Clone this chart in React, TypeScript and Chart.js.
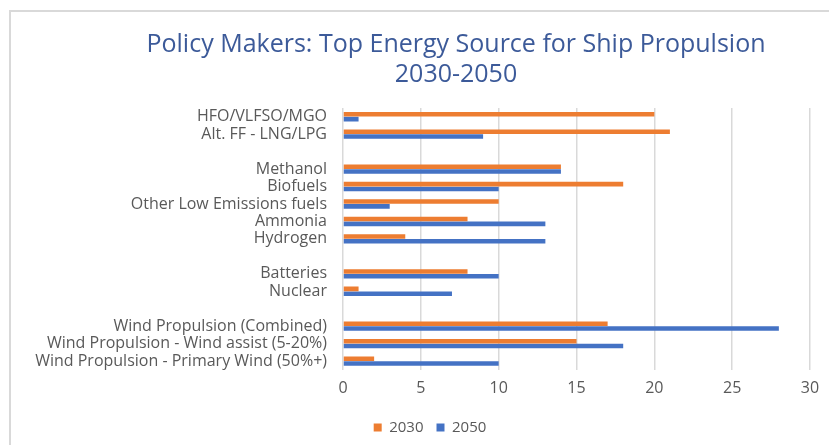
import React, { useEffect, useRef } from "react";
import { Chart, registerables } from "chart.js";

Chart.register(...registerables);

const TITLE_LINE_1 = "Policy Makers: Top Energy Source for Ship Propulsion";
const TITLE_LINE_2 = "2030-2050";

const categories = [
  "HFO/VLFSO/MGO",
  "Alt. FF - LNG/LPG",
  "",
  "Methanol",
  "Biofuels",
  "Other Low Emissions fuels",
  "Ammonia",
  "Hydrogen",
  "",
  "Batteries",
  "Nuclear",
  "",
  "Wind Propulsion (Combined)",
  "Wind Propulsion - Wind assist (5-20%)",
  "Wind Propulsion - Primary Wind (50%+)",
];

const values2030 = [20, 21, null, 14, 18, 10, 8, 4, null, 8, 1, null, 17, 15, 2];
const values2050 = [1, 9, null, 14, 10, 3, 13, 13, null, 10, 7, null, 28, 18, 10];

const seriesNames = ["2030", "2050"];
const xTicks = [0, 5, 10, 15, 20, 25, 30];

const FONT = "'Open Sans', Lato, sans-serif";

const legendShift = {
  id: "legendShift",
  afterLayout(chart: any) {
    const l = chart.legend;
    if (l) {
      l.left += 20;
      l.right += 20;
    }
  },
};

export default function App() {
  const canvasRef = useRef<HTMLCanvasElement | null>(null);

  useEffect(() => {
    document.body.style.margin = "0";
    const canvas = canvasRef.current;
    if (!canvas) return;
    const chart = new Chart(canvas, {
      type: "bar",
      data: {
        labels: categories,
        datasets: [
          {
            label: seriesNames[0],
            data: values2030,
            backgroundColor: "#ED7D31",
            categoryPercentage: 0.55,
            barPercentage: 0.95,
          },
          {
            label: seriesNames[1],
            data: values2050,
            backgroundColor: "#4472C4",
            categoryPercentage: 0.55,
            barPercentage: 0.95,
          },
        ],
      },
      plugins: [legendShift],
      options: {
        indexAxis: "y",
        responsive: false,
        animation: false,
        devicePixelRatio: 1,
        layout: { padding: { top: 108, left: 10, right: 19, bottom: 0 } },
        scales: {
          x: {
            min: xTicks[0],
            max: xTicks[xTicks.length - 1],
            afterBuildTicks: (scale: any) => {
              scale.ticks = xTicks.map((v) => ({ value: v }));
            },
            grid: { color: "#D9D9D9", lineWidth: 1.5, drawTicks: false },
            border: { display: false },
            ticks: {
              color: "#595959",
              font: { family: FONT, size: 16 },
              padding: 9,
            },
          },
          y: {
            grid: { display: false, drawTicks: false },
            border: { display: false },
            afterFit: (scale: any) => {
              scale.width = 333;
            },
            ticks: {
              color: "#595959",
              font: { family: FONT, size: 16 },
              padding: 16,
              autoSkip: false,
            },
          },
        },
        plugins: {
          title: { display: false },
          tooltip: { enabled: false },
          legend: {
            position: "bottom",
            labels: {
              color: "#595959",
              font: { family: FONT, size: 15 },
              boxWidth: 8,
              boxHeight: 8,
              padding: 13,
            },
          },
        },
      },
    });
    return () => chart.destroy();
  }, []);

  return (
    <div style={{ position: "relative", width: 829, height: 445, overflow: "hidden" }}>
      <div
        style={{
          position: "absolute",
          left: 9,
          top: 10,
          right: 0,
          bottom: 0,
          borderLeft: "2px solid #D9D9D9",
          borderTop: "2px solid #D9D9D9",
        }}
      />
      <canvas ref={canvasRef} width={829} height={445} style={{ position: "absolute", left: 0, top: 0 }} />
      <div
        style={{
          position: "absolute",
          left: 106,
          top: 27,
          width: 700,
          textAlign: "center",
          fontFamily: FONT,
          fontSize: 25,
          lineHeight: "30px",
          color: "#3C5A99",
        }}
      >
        <div>{TITLE_LINE_1}</div>
        <div>{TITLE_LINE_2}</div>
      </div>
    </div>
  );
}
